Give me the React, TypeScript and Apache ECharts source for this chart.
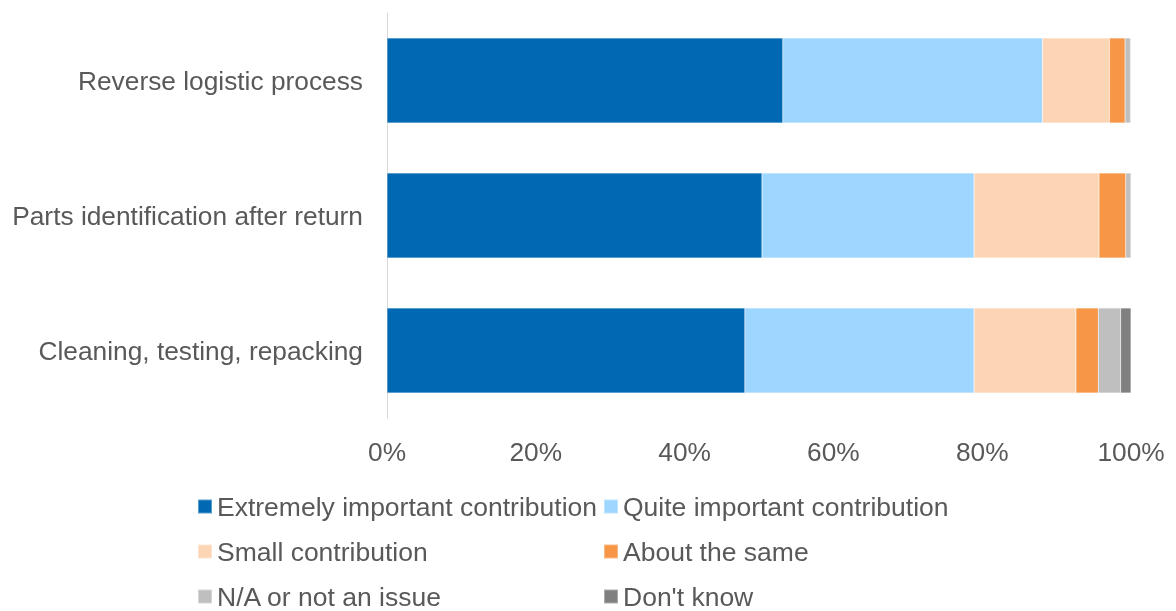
import React, { useEffect, useRef } from "react";
import * as echarts from "echarts";

const categories = [
  "Reverse logistic process",
  "Parts identification after return",
  "Cleaning, testing, repacking",
];
const seriesNames = [
  "Extremely important contribution",
  "Quite important contribution",
  "Small contribution",
  "About the same",
  "N/A or not an issue",
  "Don't know",
];
const extremely = [53.2, 50.4, 48.1];
const quite = [34.9, 28.5, 30.8];
const small = [9.0, 16.8, 13.7];
const aboutSame = [2.1, 3.6, 3.0];
const notIssue = [0.7, 0.7, 3.0];
const dontKnow = [0.1, 0.0, 1.4];
const xTicks = [0, 20, 40, 60, 80, 100];

const colors = ["#0069B4", "#9DD6FF", "#FCD5B5", "#F79646", "#BFBFBF", "#808080"];

export default function App() {
  const ref = useRef<HTMLDivElement>(null);
  useEffect(() => {
    if (!ref.current) return;
    const chart = echarts.init(ref.current, null, { renderer: "svg" });
    const values = [extremely, quite, small, aboutSame, notIssue, dontKnow];
    const font = "'Liberation Sans', Arial, sans-serif";
    const fs = 26.3;
    const legendPos = [
      [197, 493],
      [603, 493],
      [197, 538],
      [603, 538],
      [197, 583],
      [603, 583],
    ];
    chart.setOption({
      animation: false,
      color: colors,
      grid: { left: 387, right: 45, top: 13, bottom: 193, containLabel: false },
      xAxis: {
        type: "value",
        min: xTicks[0],
        max: xTicks[xTicks.length - 1],
        interval: 20,
        axisLine: { show: false },
        axisTick: { show: false },
        splitLine: { show: false },
        axisLabel: {
          formatter: "{value}%",
          fontSize: fs,
          color: "#595959",
          fontFamily: font,
          margin: 21,
        },
      },
      yAxis: {
        type: "category",
        data: categories,
        inverse: true,
        axisLine: { show: true, lineStyle: { color: "#D9D9D9", width: 1 } },
        axisTick: { show: false },
        axisLabel: {
          fontSize: fs,
          color: "#595959",
          fontFamily: font,
          margin: 24,
        },
      },
      legend: seriesNames.map((n, i) => ({
        data: [n],
        left: legendPos[i][0],
        top: legendPos[i][1],
        padding: 0,
        itemWidth: 14,
        itemHeight: 14,
        icon: "rect",
        selectedMode: false,
        textStyle: { fontSize: 26.5, color: "#595959", fontFamily: font },
      })),
      series: seriesNames.map((n, i) => ({
        name: n,
        type: "bar",
        stack: "total",
        data: values[i],
        barWidth: 85,
        itemStyle: { color: colors[i], borderColor: "rgba(255,255,255,0.35)", borderWidth: 0.5 },
      })),
    });
    return () => chart.dispose();
  }, []);
  return (
    <div
      ref={ref}
      style={{ position: "fixed", left: 0, top: 0, width: 1176, height: 611 }}
    />
  );
}
